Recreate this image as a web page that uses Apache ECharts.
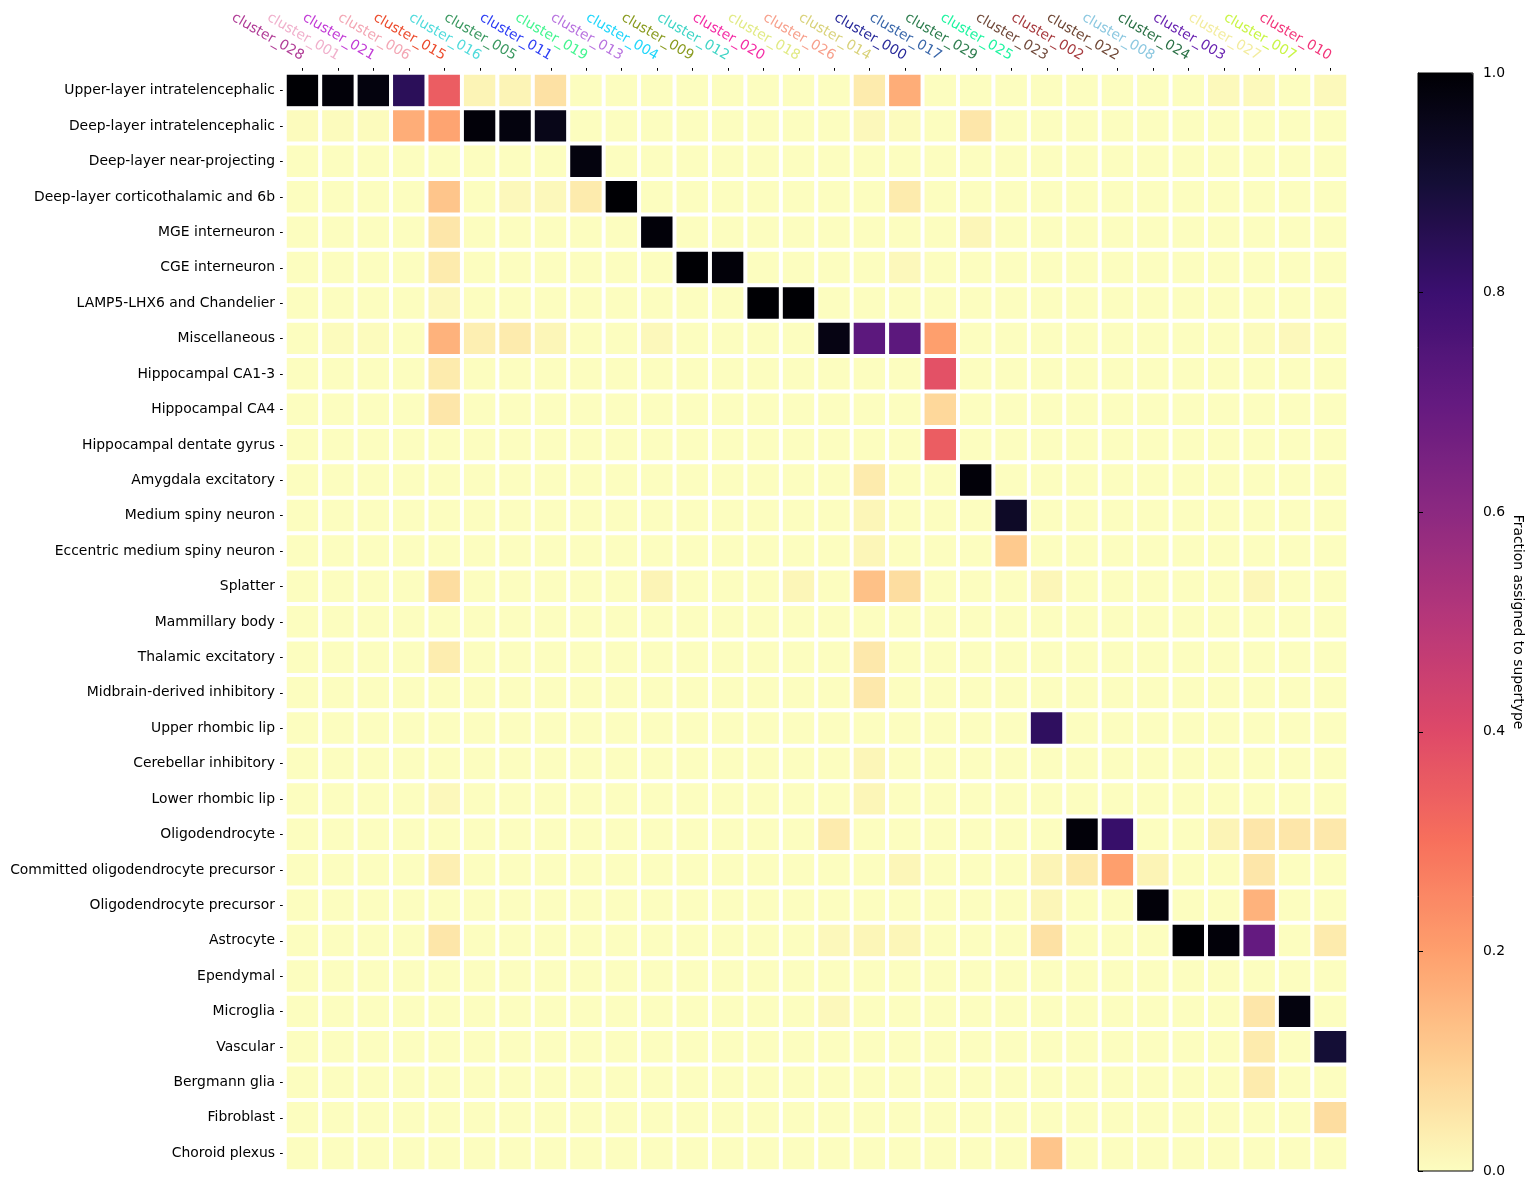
<!DOCTYPE html>
<html>
<head>
<meta charset="utf-8">
<title>Cluster to supertype assignment</title>
<script src="https://cdn.jsdelivr.net/npm/echarts@6/dist/echarts.min.js"></script>
<style>
  html, body { margin: 0; padding: 0; background: #fff; }
  #chart { width: 1534px; height: 1190px; }
</style>
</head>
<body>
<div id="chart"></div>
<script>
const supertypes = [
  'Upper-layer intratelencephalic', 'Deep-layer intratelencephalic', 'Deep-layer near-projecting',
  'Deep-layer corticothalamic and 6b', 'MGE interneuron', 'CGE interneuron', 'LAMP5-LHX6 and Chandelier',
  'Miscellaneous', 'Hippocampal CA1-3', 'Hippocampal CA4', 'Hippocampal dentate gyrus',
  'Amygdala excitatory', 'Medium spiny neuron', 'Eccentric medium spiny neuron', 'Splatter',
  'Mammillary body', 'Thalamic excitatory', 'Midbrain-derived inhibitory', 'Upper rhombic lip',
  'Cerebellar inhibitory', 'Lower rhombic lip', 'Oligodendrocyte', 'Committed oligodendrocyte precursor',
  'Oligodendrocyte precursor', 'Astrocyte', 'Ependymal', 'Microglia', 'Vascular', 'Bergmann glia',
  'Fibroblast', 'Choroid plexus'
]

const clusters = [
  'cluster_028', 'cluster_001', 'cluster_021', 'cluster_006', 'cluster_015', 'cluster_016',
  'cluster_005', 'cluster_011', 'cluster_019', 'cluster_013', 'cluster_004', 'cluster_009',
  'cluster_012', 'cluster_020', 'cluster_018', 'cluster_026', 'cluster_014', 'cluster_000',
  'cluster_017', 'cluster_029', 'cluster_025', 'cluster_023', 'cluster_002', 'cluster_022',
  'cluster_008', 'cluster_024', 'cluster_003', 'cluster_027', 'cluster_007', 'cluster_010'
]

const clusterColors = [
  '#b03c96', '#f0b0cc', '#c23bd6', '#f3a6b4', '#ec4b2c', '#4fdbdc',
  '#3a9860', '#2b3cf4', '#44f590', '#b873df', '#1fd6fb', '#8a9b20',
  '#3fd5c6', '#f42ba5', '#e1ea84', '#f7a08c', '#d9d27a', '#27299a',
  '#3a67aa', '#2d7d4e', '#1ef4a0', '#70493a', '#a63a3e', '#6e4634',
  '#8cc8e0', '#2a7045', '#6822b0', '#f3ec9e', '#c9f545', '#f2357a'
]

// one row per supertype, one column per cluster (fraction assigned)
const fractions = [
  [1.00, 0.99, 0.98, 0.84, 0.35, 0.02, 0.02, 0.06, 0, 0, 0, 0, 0, 0, 0, 0, 0.04, 0.17, 0, 0, 0, 0, 0, 0, 0, 0, 0.008, 0.008, 0, 0.008],
  [0.005, 0.005, 0.005, 0.17, 0.19, 0.99, 0.98, 0.96, 0, 0, 0, 0, 0, 0, 0, 0, 0.01, 0.005, 0, 0.05, 0, 0, 0, 0, 0, 0, 0, 0, 0, 0],
  [0, 0, 0, 0, 0, 0, 0, 0, 0.98, 0, 0, 0, 0, 0, 0, 0, 0, 0, 0, 0, 0, 0, 0, 0, 0, 0, 0, 0, 0, 0],
  [0, 0, 0, 0, 0.12, 0, 0.01, 0.01, 0.04, 1.00, 0, 0, 0, 0, 0, 0, 0, 0.04, 0, 0, 0, 0, 0, 0, 0, 0, 0, 0, 0, 0],
  [0, 0, 0, 0, 0.05, 0, 0, 0, 0, 0, 0.99, 0, 0, 0, 0, 0, 0, 0, 0, 0.015, 0, 0, 0, 0, 0, 0, 0, 0, 0, 0],
  [0, 0, 0, 0, 0.04, 0, 0, 0, 0, 0, 0, 1.00, 0.99, 0, 0, 0, 0, 0.01, 0, 0, 0, 0, 0, 0, 0, 0, 0, 0, 0, 0],
  [0, 0, 0, 0, 0.01, 0, 0, 0, 0, 0, 0, 0, 0, 1.00, 1.00, 0, 0, 0, 0, 0, 0, 0, 0, 0, 0, 0, 0, 0, 0, 0],
  [0, 0.005, 0.005, 0, 0.16, 0.03, 0.04, 0.015, 0, 0, 0.01, 0, 0, 0, 0, 0.97, 0.72, 0.72, 0.20, 0, 0, 0, 0, 0, 0, 0, 0, 0.005, 0.01, 0],
  [0, 0, 0, 0, 0.04, 0, 0, 0, 0, 0, 0, 0, 0, 0, 0, 0, 0, 0, 0.38, 0, 0, 0, 0, 0, 0, 0, 0, 0, 0, 0],
  [0, 0, 0, 0, 0.05, 0, 0, 0, 0, 0, 0, 0, 0, 0, 0, 0, 0, 0, 0.08, 0, 0, 0, 0, 0, 0, 0, 0, 0, 0, 0],
  [0, 0, 0, 0, 0, 0, 0, 0, 0, 0, 0, 0, 0, 0, 0, 0, 0, 0, 0.35, 0, 0, 0, 0, 0, 0, 0, 0, 0, 0, 0],
  [0, 0, 0, 0, 0, 0, 0, 0, 0, 0, 0, 0, 0, 0, 0, 0, 0.04, 0, 0, 0.99, 0, 0, 0, 0, 0, 0, 0, 0, 0, 0],
  [0, 0, 0, 0, 0, 0, 0, 0, 0, 0, 0, 0, 0, 0, 0, 0, 0.015, 0, 0, 0, 0.93, 0, 0, 0, 0, 0, 0, 0, 0, 0],
  [0, 0, 0, 0, 0, 0, 0, 0, 0, 0, 0, 0, 0, 0, 0, 0, 0.015, 0, 0, 0, 0.11, 0, 0, 0, 0, 0, 0, 0, 0, 0],
  [0, 0, 0, 0, 0.07, 0, 0, 0, 0, 0, 0.02, 0, 0, 0, 0.015, 0, 0.13, 0.07, 0, 0, 0, 0.015, 0, 0, 0, 0, 0, 0.015, 0, 0],
  [0, 0, 0, 0, 0, 0, 0, 0, 0, 0, 0, 0, 0, 0, 0, 0, 0, 0, 0, 0, 0, 0, 0, 0, 0, 0, 0, 0, 0, 0],
  [0, 0, 0, 0, 0.035, 0, 0, 0, 0, 0, 0, 0, 0, 0, 0, 0, 0.045, 0, 0, 0, 0, 0, 0, 0, 0, 0, 0, 0, 0, 0],
  [0, 0, 0, 0, 0, 0, 0, 0, 0, 0, 0, 0, 0, 0, 0, 0, 0.045, 0, 0, 0, 0, 0, 0, 0, 0, 0, 0, 0, 0, 0],
  [0, 0, 0, 0, 0, 0, 0, 0, 0, 0, 0, 0, 0, 0, 0, 0, 0, 0, 0, 0, 0, 0.83, 0, 0, 0, 0, 0, 0, 0, 0],
  [0, 0, 0, 0, 0, 0, 0, 0, 0, 0, 0, 0, 0, 0, 0, 0, 0.015, 0, 0, 0, 0, 0, 0, 0, 0, 0, 0, 0, 0, 0],
  [0, 0, 0, 0, 0.01, 0, 0, 0, 0, 0, 0, 0, 0, 0, 0, 0, 0.015, 0, 0, 0, 0, 0, 0, 0, 0, 0, 0, 0, 0, 0],
  [0, 0, 0, 0, 0, 0, 0, 0, 0, 0, 0, 0, 0, 0, 0, 0.04, 0, 0, 0, 0, 0, 0, 0.99, 0.81, 0, 0, 0.02, 0.05, 0.05, 0.045],
  [0, 0, 0, 0, 0.03, 0, 0, 0, 0, 0, 0, 0, 0, 0, 0, 0, 0, 0.015, 0, 0, 0, 0.02, 0.04, 0.20, 0.02, 0, 0, 0.05, 0, 0],
  [0, 0, 0, 0, 0, 0, 0, 0, 0, 0, 0, 0, 0, 0, 0, 0, 0, 0, 0, 0, 0, 0.015, 0, 0, 0.99, 0, 0, 0.16, 0, 0],
  [0, 0, 0, 0, 0.05, 0, 0, 0, 0, 0, 0, 0, 0, 0, 0, 0.01, 0.015, 0.015, 0, 0, 0, 0.06, 0, 0, 0, 1.00, 0.99, 0.70, 0, 0.04],
  [0, 0, 0, 0, 0, 0, 0, 0, 0, 0, 0, 0, 0, 0, 0, 0, 0, 0, 0, 0, 0, 0, 0, 0, 0, 0, 0, 0, 0, 0],
  [0, 0, 0, 0, 0, 0, 0, 0, 0, 0, 0, 0, 0, 0, 0, 0.01, 0, 0, 0, 0, 0, 0, 0, 0, 0, 0, 0, 0.05, 0.98, 0],
  [0, 0, 0, 0, 0, 0, 0, 0, 0, 0, 0, 0, 0, 0, 0, 0, 0, 0, 0, 0, 0, 0, 0, 0, 0, 0, 0, 0.04, 0, 0.90],
  [0, 0, 0, 0, 0, 0, 0, 0, 0, 0, 0, 0, 0, 0, 0, 0, 0, 0, 0, 0, 0, 0, 0, 0, 0, 0, 0, 0.04, 0, 0],
  [0, 0, 0, 0, 0, 0, 0, 0, 0, 0, 0, 0, 0, 0, 0, 0, 0, 0, 0, 0, 0, 0, 0, 0, 0, 0, 0, 0, 0, 0.07],
  [0, 0, 0, 0, 0, 0, 0, 0, 0, 0, 0, 0, 0, 0, 0, 0, 0, 0, 0, 0, 0, 0.12, 0, 0, 0, 0, 0, 0, 0, 0]
]

// magma, reversed (0 -> pale yellow, 1 -> black)
const magmaR = [
  '#fcfdbf', '#fecf92', '#fe9f6d', '#f7705c', '#de4968', '#b73779',
  '#8c2981', '#641a80', '#3b0f70', '#140e36', '#000004'
]

const font = 'DejaVu Sans'
const fs = 13.9

const cells = []
fractions.forEach((row, y) => row.forEach((v, x) => cells.push([x, y, v])))

const chart = echarts.init(document.getElementById('chart'))
chart.setOption({
  animation: false,
  textStyle: { fontFamily: font },
  grid: [
    { left: 285, top: 73, width: 1063, height: 1098 },
    { left: 1418, top: 73, width: 55, height: 1098, show: true, z: 10,
      backgroundColor: 'transparent', borderColor: '#000', borderWidth: 1 }
  ],
  xAxis: [
    {
      type: 'category', data: clusters, position: 'top', gridIndex: 0,
      axisLine: { show: false },
      axisTick: { show: true, length: 5, alignWithLabel: true, lineStyle: { color: '#000' } },
      axisLabel: {
        interval: 0, rotate: 30, margin: 16, fontSize: fs, fontFamily: font,
        color: v => clusterColors[clusters.indexOf(v)]
      },
      splitLine: { show: false }
    },
    { type: 'value', gridIndex: 1, show: false, min: 0, max: 1 }
  ],
  yAxis: [
    {
      type: 'category', data: supertypes, inverse: true, gridIndex: 0,
      axisLine: { show: false },
      axisTick: { show: true, length: 5, alignWithLabel: true, lineStyle: { color: '#000' } },
      axisLabel: { interval: 0, margin: 10, fontSize: fs, fontFamily: font, color: '#000' },
      splitLine: { show: false }
    },
    {
      type: 'value', gridIndex: 1, position: 'right', min: 0, max: 1, interval: 0.2, z: 10,
      axisLine: { show: true, lineStyle: { color: '#000' } },
      axisTick: { show: true, length: 5, lineStyle: { color: '#000' } },
      axisLabel: { margin: 10, fontSize: fs, fontFamily: font, color: '#000', formatter: v => v.toFixed(1) },
      splitLine: { show: false },
      name: 'Fraction assigned to supertype', nameLocation: 'middle', nameRotate: -90, nameGap: 38,
      nameTextStyle: { fontSize: fs, fontFamily: font, color: '#000' }
    }
  ],
  visualMap: {
    type: 'continuous', min: 0, max: 1, calculable: false, seriesIndex: 0,
    orient: 'vertical', left: 1418, top: 73, itemWidth: 55, itemHeight: 1098,
    padding: 0, inRange: { color: magmaR }, z: 1
  },
  series: [{
    type: 'heatmap', xAxisIndex: 0, yAxisIndex: 0, data: cells,
    itemStyle: { borderColor: '#fff', borderWidth: 4 },
    emphasis: { disabled: true }
  }]
})
</script>
</body>
</html>
